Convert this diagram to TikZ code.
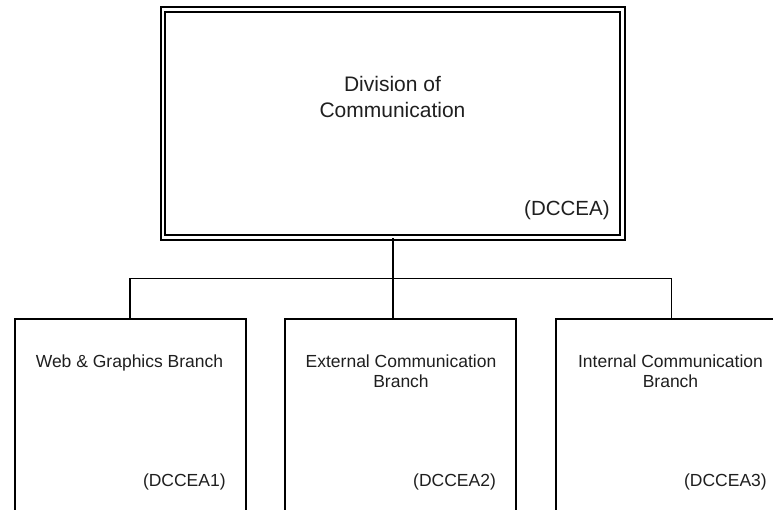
\documentclass[tikz,border=0pt]{standalone}
\usepackage{fontspec}
\setmainfont{Liberation Sans}
\usetikzlibrary{calc}
\tikzset{
  conn/.style={line width=1.8pt, draw=black},
  topbox/.style={draw=black, double=white, double distance=2.9pt, line width=1.7pt, inner sep=0pt, rectangle},
  branchbox/.style={draw=black, line width=1.8pt, inner sep=0pt, rectangle, minimum width=231.3pt, minimum height=242pt},
  bigtxt/.style={font=\fontsize{21}{25.5}\selectfont, align=center, inner sep=0pt, text=black!88},
  codebig/.style={font=\fontsize{20.5}{24}\selectfont, inner sep=0pt, anchor=base east, text=black!88},
  smalltxt/.style={font=\fontsize{17.5}{20}\selectfont, align=center, inner sep=0pt, anchor=base, text=black!88},
  codesmall/.style={font=\fontsize{17.5}{20}\selectfont, inner sep=0pt, anchor=base east, text=black!88}
}
\begin{document}
\begin{tikzpicture}[x=1pt,y=-1pt]
\useasboundingbox (0,0) rectangle (773,509);
\clip (0,0) rectangle (773,509);
\fill[white] (0,0) rectangle (773,509);
% top box
\node[topbox, minimum width=459.5pt, minimum height=228pt] (div) at (392.75,123.6) {};
\node[bigtxt, anchor=base] (divt) at (392.5,117) {Division of\\Communication};
\node[codebig] (divc) at ($(div.south east)+(-13.5,-23)$) {(DCCEA)};
% branch boxes
\node[branchbox, anchor=north] (b1) at (130.3,317.7) {};
\node[branchbox, anchor=north] (b2) at (400.5,317.7) {};
\node[branchbox, anchor=north] (b3) at (671.4,317.7) {};
\node[smalltxt] (b1t) at (129.5,367.5) {Web \& Graphics Branch};
\node[smalltxt] (b2t) at (401,387.5) {External Communication\\Branch};
\node[smalltxt] (b3t) at (670.5,387.5) {Internal Communication\\Branch};
\node[codesmall] (b1c) at ($(b1.north east)+(-21,168.5)$) {(DCCEA1)};
\node[codesmall] (b2c) at ($(b2.north east)+(-21,168.5)$) {(DCCEA2)};
\node[codesmall] (b3c) at ($(b3.north east)+(-21,168.5)$) {(DCCEA3)};
% connectors
\coordinate (bar) at (393,278.5);
\draw[conn] (div.south -| bar) -- (b2.north -| bar);
\draw[conn] (b1.north) -- (b1.north |- bar) -- (b3.north |- bar) -- (b3.north);
\end{tikzpicture}
\end{document}
